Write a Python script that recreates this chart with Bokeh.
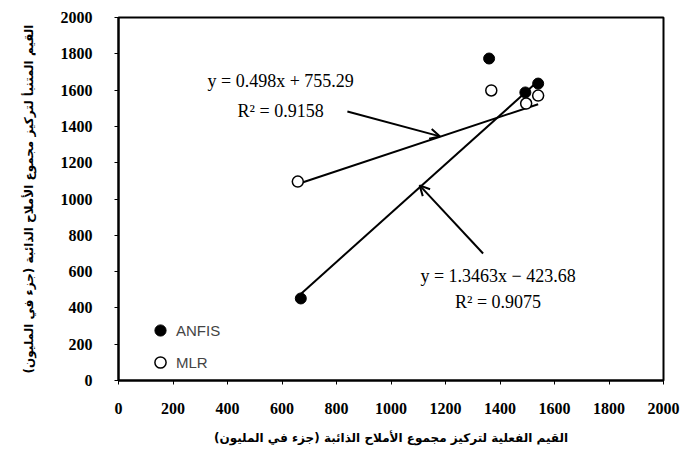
from bokeh.plotting import figure
from bokeh.models import Legend, LegendItem, Arrow, OpenHead, Label, Range1d, FixedTicker
from bokeh.embed import file_html
from bokeh.resources import INLINE

# data
anfis_x = [669, 1360, 1493, 1540]
anfis_y = [452, 1774, 1587, 1636]
mlr_x = [658, 1368, 1496, 1540]
mlr_y = [1096, 1598, 1526, 1570]
ticks = [0, 200, 400, 600, 800, 1000, 1200, 1400, 1600, 1800, 2000]
mlr_slope, mlr_int = 0.498, 755.29
anfis_slope, anfis_int = 1.3463, -423.68
eq_mlr = ["y = 0.498x + 755.29", "R\u00b2 = 0.9158"]
eq_anfis = ["y = 1.3463x \u2212 423.68", "R\u00b2 = 0.9075"]
x_title = "القيم الفعلية لتركيز مجموع الأملاح الذائبة (جزء في المليون)"
y_title = "القيم المتنبأ لتركيز مجموع الأملاح الذائبة (جزء في المليون)"

p = figure(width=680, height=468, output_backend="svg", toolbar_location=None,
           x_range=Range1d(0, 2000), y_range=Range1d(0, 2000),
           min_border_left=118, min_border_top=17, min_border_right=17, min_border_bottom=88)
p.grid.visible = False
p.outline_line_color = "black"
p.outline_line_width = 2
p.background_fill_color = "white"
p.border_fill_color = "white"

for ax in (p.xaxis[0], p.yaxis[0]):
    ax.ticker = FixedTicker(ticks=ticks)
    ax.axis_line_color = "black"
    ax.axis_line_width = 2
    ax.major_tick_in = 0
    ax.major_tick_out = 4
    ax.minor_tick_line_color = None
    ax.major_label_text_font = "Liberation Serif"
    ax.major_label_text_font_size = "16px"
    ax.major_label_text_font_style = "bold"
    ax.major_label_text_color = "black"
    ax.axis_label_text_font = "DejaVu Sans"
    ax.axis_label_text_font_style = "bold"
    ax.axis_label_text_font_size = "12px"
    ax.axis_label_text_color = "black"

p.xaxis.axis_label = x_title
p.yaxis.axis_label = y_title
p.xaxis.major_label_standoff = 18
p.xaxis.axis_label_standoff = 14
p.yaxis.major_label_standoff = 22
p.yaxis.axis_label_standoff = 22

# trend lines
mx = [min(mlr_x), max(mlr_x)]
p.line(mx, [mlr_slope * v + mlr_int for v in mx], line_color="black", line_width=2)
ax_ = [min(anfis_x), max(anfis_x)]
p.line(ax_, [anfis_slope * v + anfis_int for v in ax_], line_color="black", line_width=2)

r1 = p.scatter(anfis_x, anfis_y, size=11, fill_color="black", line_color="black")
r2 = p.scatter(mlr_x, mlr_y, size=11, fill_color="white", line_color="black", line_width=1.5)

legend = Legend(items=[LegendItem(label="ANFIS", renderers=[r1]),
                       LegendItem(label="MLR", renderers=[r2])],
                location=(28, 4), background_fill_alpha=0, border_line_color=None,
                padding=0, margin=0, spacing=4, glyph_height=28, glyph_width=28,
                label_height=28, label_standoff=2,
                label_text_font="Liberation Sans", label_text_font_size="15px")
p.add_layout(legend)

# equations
for txt, x, y in [(eq_mlr[0], 595, 1650), (eq_mlr[1], 595, 1486),
                  (eq_anfis[0], 1393, 578), (eq_anfis[1], 1393, 430)]:
    p.add_layout(Label(x=x, y=y, text=txt, text_align="center", text_baseline="middle",
                       text_font="Liberation Serif", text_font_size="18px", text_color="black"))

p.add_layout(Arrow(end=OpenHead(size=10, line_width=2), x_start=840, y_start=1482,
                   x_end=1180, y_end=1345, line_width=2, line_color="black"))
p.add_layout(Arrow(end=OpenHead(size=10, line_width=2), x_start=1338, y_start=700,
                   x_end=1105, y_end=1075, line_width=2, line_color="black"))

open("out.html", "w").write(file_html(p, INLINE))
